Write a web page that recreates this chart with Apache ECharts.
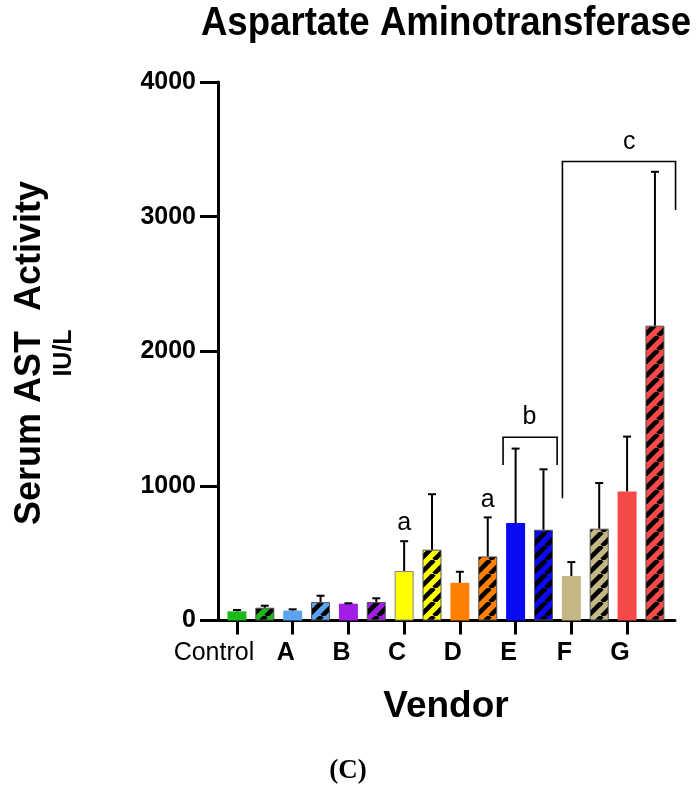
<!DOCTYPE html>
<html>
<head>
<meta charset="utf-8">
<script src="https://cdn.jsdelivr.net/npm/echarts@6/dist/echarts.min.js"></script>
<style>
html,body{margin:0;padding:0;background:#fff;}
#chart{width:696px;height:799px;}
</style>
</head>
<body>
<div id="chart"></div>
<script>
// ---------- data ----------
const groups = ['Control', 'A', 'B', 'C', 'D', 'E', 'F', 'G'];
const plainMean   = [68, 73, 125, 368, 280, 724, 330, 959];
const plainErrTop = [78, 83, 128, 589, 362, 1277, 434, 1366];
const hatchMean   = [95, 137, 137, 526, 476, 674, 682, 2190];
const hatchErrTop = [110, 184, 165, 938, 766, 1123, 1021, 3333];
const groupColors = ['#1DB81D', '#5AA3F0', '#A21EE6', '#FFFF00', '#FF8000', '#0A0AF5', '#C3B785', '#F54848'];
const yTicks = [0, 1000, 2000, 3000, 4000];
const sigLetters = ['a', 'a', 'b', 'c'];
const sigX = [6, 9, 10.5, 14.08];
const sigY = [727, 895, 1514, 3557];
const bracketB = [9.55, 1155, 9.55, 1361, 11.49, 1361, 11.49, 1155];
const bracketC = [11.68, 908, 11.68, 3409, 15.74, 3409, 15.74, 3050];

// ---------- helpers ----------
function stripePattern(bg) {
  const P = 14;
  const c = document.createElement('canvas');
  c.width = P; c.height = P;
  const ctx = c.getContext('2d');
  ctx.fillStyle = bg;
  ctx.fillRect(0, 0, P, P);
  ctx.strokeStyle = '#000';
  ctx.lineWidth = 4.6;
  for (let k = -1; k <= 1; k++) {
    ctx.beginPath();
    ctx.moveTo(k * P, P);
    ctx.lineTo((k + 1) * P, 0);
    ctx.stroke();
  }
  return { image: c, repeat: 'repeat' };
}

const barData = [];
const errData = [];
groups.forEach((g, i) => {
  const xp = 2 * i, xh = 2 * i + 1;
  const plainStyle = { color: groupColors[i] };
  if (groupColors[i] === '#FFFF00') { plainStyle.borderColor = '#888'; plainStyle.borderWidth = 1; }
  barData.push({ value: [xp, plainMean[i]], itemStyle: plainStyle });
  barData.push({ value: [xh, hatchMean[i]], itemStyle: { color: stripePattern(groupColors[i]), borderColor: '#555', borderWidth: 1 } });
  errData.push([xp, plainMean[i], plainErrTop[i]]);
  errData.push([xh, hatchMean[i], hatchErrTop[i]]);
});

const FONT = '"Liberation Sans", Arial, Helvetica, sans-serif';
const XMIN = -0.68, XMAX = 15.72;

const chart = echarts.init(document.getElementById('chart'), null, { renderer: 'canvas' });

const option = {
  backgroundColor: '#fff',
  animation: false,
  grid: { left: 218, right: 21, top: 82, bottom: 178.5, containLabel: false },
  xAxis: {
    type: 'value',
    min: XMIN, max: XMAX,
    splitLine: { show: false },
    axisLine: { show: true, onZero: false, lineStyle: { color: '#000', width: 3 } },
    axisTick: { show: true, customValues: groups.map((g, i) => 2 * i), length: 14, lineStyle: { color: '#000', width: 3 } },
    axisLabel: {
      show: true,
      customValues: groups.map((g, i) => 2 * i),
      margin: 20,
      formatter: v => {
        const idx = Math.round(v / 2);
        return idx === 0 ? '{n|' + groups[idx] + '}' : '{b|' + groups[idx] + '}';
      },
      rich: {
        n: { fontFamily: FONT, fontSize: 25, fontWeight: 'normal', color: '#000', padding: [0, 46, 0, 0] },
        b: { fontFamily: FONT, fontSize: 25, fontWeight: 'bold', color: '#000', padding: [0, 14, 0, 0] }
      }
    }
  },
  yAxis: {
    type: 'value',
    min: 0, max: 4000, interval: 1000,
    splitLine: { show: false },
    axisLine: { show: true, onZero: false, lineStyle: { color: '#000', width: 3 } },
    axisTick: { show: true, length: 18, lineStyle: { color: '#000', width: 3 } },
    axisLabel: {
      margin: 22,
      fontFamily: FONT, fontSize: 25, fontWeight: 'bold', color: '#000',
      formatter: v => (yTicks.indexOf(v) >= 0 ? String(v) : '')
    }
  },
  series: [
    {
      type: 'bar',
      name: 'bars',
      barWidth: 19,
      data: barData,
      z: 2
    },
    {
      type: 'custom',
      name: 'errors',
      z: 5,
      data: errData,
      encode: { x: 0, y: [1, 2] },
      renderItem: (params, api) => {
        const base = api.coord([api.value(0), api.value(1)]);
        const top = api.coord([api.value(0), api.value(2)]);
        return {
          type: 'group',
          children: [
            { type: 'line', shape: { x1: base[0], y1: base[1], x2: top[0], y2: top[1] }, style: { stroke: '#000', lineWidth: 2 } },
            { type: 'line', shape: { x1: top[0] - 4, y1: top[1], x2: top[0] + 4, y2: top[1] }, style: { stroke: '#000', lineWidth: 2 } }
          ]
        };
      }
    },
    {
      type: 'custom',
      name: 'brackets',
      z: 5,
      data: [bracketB, bracketC],
      encode: { x: [0, 2, 4, 6], y: [1, 3, 5, 7] },
      renderItem: (params, api) => {
        const pts = [];
        for (let k = 0; k < 4; k++) pts.push(api.coord([api.value(2 * k), api.value(2 * k + 1)]));
        return { type: 'polyline', shape: { points: pts }, style: { stroke: '#000', lineWidth: 1.6, fill: null } };
      }
    },
    {
      type: 'custom',
      name: 'letters',
      z: 6,
      data: sigX.map((x, i) => [x, sigY[i]]),
      encode: { x: 0, y: 1 },
      renderItem: (params, api) => {
        const p = api.coord([api.value(0), api.value(1)]);
        return {
          type: 'text',
          x: p[0], y: p[1],
          style: { text: sigLetters[params.dataIndex], font: 'normal 25px ' + FONT, fill: '#000', align: 'center', verticalAlign: 'middle' }
        };
      }
    }
  ],
  graphic: [
    { type: 'text', x: 446, y: 24, scaleX: 0.915,
      style: { text: 'Aspartate Aminotransferase', font: 'bold 40px ' + FONT, fill: '#000', align: 'center', verticalAlign: 'middle', textAlign: 'center', textVerticalAlign: 'middle' } },
    { type: 'text', x: 30, y: 353, rotation: Math.PI / 2,
      style: { text: 'Serum AST  Activity', font: 'bold 36px ' + FONT, fill: '#000', align: 'center', verticalAlign: 'middle', textAlign: 'center', textVerticalAlign: 'middle' } },
    { type: 'text', x: 64, y: 353, rotation: Math.PI / 2,
      style: { text: 'IU/L', font: 'bold 25px ' + FONT, fill: '#000', align: 'center', verticalAlign: 'middle', textAlign: 'center', textVerticalAlign: 'middle' } },
    { type: 'text', x: 446, y: 707,
      style: { text: 'Vendor', font: 'bold 37px ' + FONT, fill: '#000', align: 'center', verticalAlign: 'middle', textAlign: 'center', textVerticalAlign: 'middle' } },
    { type: 'text', x: 348, y: 771,
      style: { text: '(C)', font: 'bold 27px "Liberation Serif", "Times New Roman", serif', fill: '#000', align: 'center', verticalAlign: 'middle', textAlign: 'center', textVerticalAlign: 'middle' } }
  ]
};
chart.setOption(option);
</script>
</body>
</html>
